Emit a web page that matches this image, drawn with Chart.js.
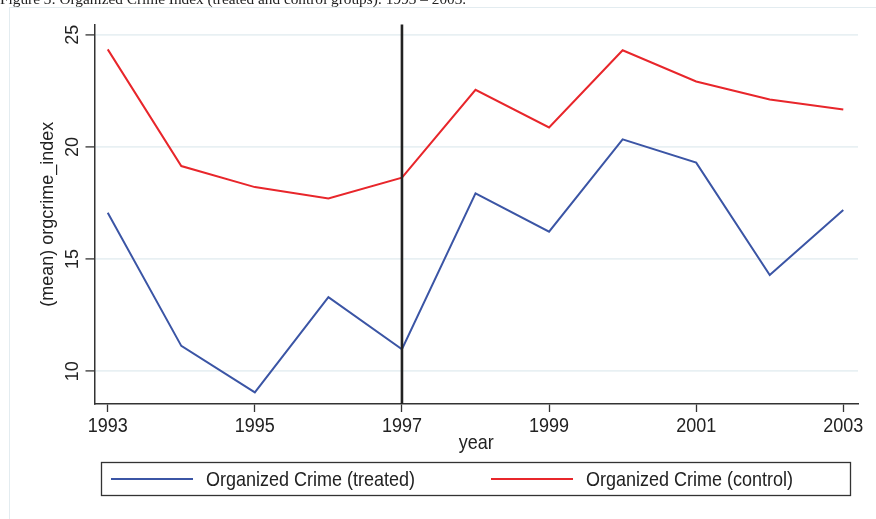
<!DOCTYPE html>
<html>
<head>
<meta charset="utf-8">
<script src="https://cdn.jsdelivr.net/npm/chart.js@4.4.1/dist/chart.umd.min.js"></script>
<style>
  html, body { margin: 0; padding: 0; background: #fff; }
  #wrap { width: 876px; height: 519px; position: relative; }
</style>
</head>
<body>
<div id="wrap"><canvas id="chart"></canvas></div>
<script>
// ── Data ────────────────────────────────────────────────────
const YEARS   = [1993, 1994, 1995, 1996, 1997, 1998, 1999, 2000, 2001, 2002, 2003];
const TREATED = [17.07, 11.13, 9.06, 13.30, 10.98, 17.93, 16.22, 20.34, 19.30, 14.29, 17.19];
const CONTROL = [24.35, 19.15, 18.21, 17.70, 18.63, 22.55, 20.87, 24.31, 22.92, 22.12, 21.67];
const SERIES_LABELS = ['Organized Crime (treated)', 'Organized Crime (control)'];
const X_TICKS = [1993, 1995, 1997, 1999, 2001, 2003];
const Y_TICKS = [10, 15, 20, 25];
const TREATMENT_YEAR = 1997;
const CAPTION = 'Figure 3: Organized Crime Index (treated and control groups): 1993 \u2013 2003.';
const X_TITLE = 'year';
const Y_TITLE = '(mean) orgcrime_index';

// ── Style ───────────────────────────────────────────────────
const BLUE = '#3b55a5';
const RED  = '#e8262b';
const INK  = '#222222';
const GRID = '#e8f0f3';
const FONT = '18px "Liberation Sans", Arial, sans-serif';
const STRETCH = 1.08;   // the source graph text is slightly taller than wide

function points(vals) {
    return YEARS.map((x, i) => ({ x: x, y: vals[i] }));
}

// horizontal text gets a small vertical stretch; rotated text reads bottom to top
function label(ctx, str, x, y, align, baseline, rotated) {
    ctx.save();
    ctx.translate(x, y);
    if (rotated) {
        ctx.rotate(-Math.PI / 2);
    } else {
        ctx.scale(1, STRETCH);
    }
    ctx.textAlign = align;
    ctx.textBaseline = baseline;
    ctx.fillText(str, 0, 0);
    ctx.restore();
}

const decor = {
    id: 'decor',
    afterDatasetsDraw(chart) {
        const ctx = chart.ctx;
        const area = chart.chartArea;
        const vx = chart.scales.x.getPixelForValue(TREATMENT_YEAR);
        ctx.save();
        ctx.strokeStyle = INK;
        ctx.lineWidth = 2.6;
        ctx.beginPath();
        ctx.moveTo(vx, area.top);
        ctx.lineTo(vx, area.bottom);
        ctx.stroke();
        ctx.restore();
    },
    afterDraw(chart) {
        const ctx = chart.ctx;
        const area = chart.chartArea;
        const xs = chart.scales.x;
        const ys = chart.scales.y;
        ctx.save();

        // outer graph-region border (only top/left fall inside the picture)
        ctx.strokeStyle = '#e3ecf0';
        ctx.lineWidth = 1;
        ctx.strokeRect(9.5, 7.5, 900, 600);

        // caption, cut off at the top edge
        ctx.fillStyle = INK;
        ctx.font = '15.3px "Liberation Serif", "Times New Roman", serif';
        ctx.textAlign = 'left';
        ctx.textBaseline = 'alphabetic';
        ctx.fillText(CAPTION, 0, 3.5);

        ctx.font = FONT;
        ctx.fillStyle = INK;

        X_TICKS.forEach(v => {
            label(ctx, String(v), xs.getPixelForValue(v), 431.5, 'center', 'alphabetic', false);
        });
        label(ctx, X_TITLE, (area.left + area.right) / 2, 448.5, 'center', 'alphabetic', false);

        Y_TICKS.forEach(v => {
            label(ctx, String(v), 77.5, ys.getPixelForValue(v), 'center', 'alphabetic', true);
        });
        label(ctx, Y_TITLE, 53, (area.top + area.bottom) / 2, 'center', 'alphabetic', true);

        // legend
        ctx.strokeStyle = '#333';
        ctx.lineWidth = 1.3;
        ctx.strokeRect(101.5, 462.5, 749, 33);
        const items = [
            { color: BLUE, x0: 111, x1: 193, tx: 206 },
            { color: RED,  x0: 491, x1: 573, tx: 586 },
        ];
        items.forEach((it, i) => {
            ctx.strokeStyle = it.color;
            ctx.lineWidth = 2;
            ctx.beginPath();
            ctx.moveTo(it.x0, 479);
            ctx.lineTo(it.x1, 479);
            ctx.stroke();
            ctx.fillStyle = INK;
            label(ctx, SERIES_LABELS[i], it.tx, 486, 'left', 'alphabetic', false);
        });
        ctx.restore();
    }
};

new Chart(document.getElementById('chart'), {
    type: 'line',
    data: {
        datasets: [
            { label: SERIES_LABELS[0], data: points(TREATED), borderColor: BLUE, borderWidth: 2 },
            { label: SERIES_LABELS[1], data: points(CONTROL), borderColor: RED,  borderWidth: 2 },
        ],
    },
    options: {
        responsive: true,
        maintainAspectRatio: false,
        animation: false,
        layout: { padding: { left: 0, top: 24.5, right: 18, bottom: 0 } },
        elements: { point: { radius: 0 }, line: { tension: 0 } },
        plugins: { legend: { display: false }, tooltip: { enabled: false } },
        scales: {
            x: {
                type: 'linear',
                min: 1992.82,
                max: 2003.2,
                afterBuildTicks: s => { s.ticks = X_TICKS.map(v => ({ value: v })); },
                afterFit: s => { s.height = 115; },
                ticks: { display: false },
                grid: { drawOnChartArea: false, drawTicks: true, tickLength: 8, tickColor: '#333', tickWidth: 1.3 },
                border: { color: '#333', width: 1.5 },
            },
            y: {
                min: 8.54,
                max: 25.46,
                afterBuildTicks: s => { s.ticks = Y_TICKS.map(v => ({ value: v })); },
                afterFit: s => { s.width = 94.5; },
                ticks: { display: false },
                grid: { color: GRID, lineWidth: 1.8, drawTicks: true, tickLength: 9, tickColor: '#333', tickWidth: 1.3 },
                border: { color: '#333', width: 1.5 },
            },
        },
    },
    plugins: [decor],
});
</script>
</body>
</html>
